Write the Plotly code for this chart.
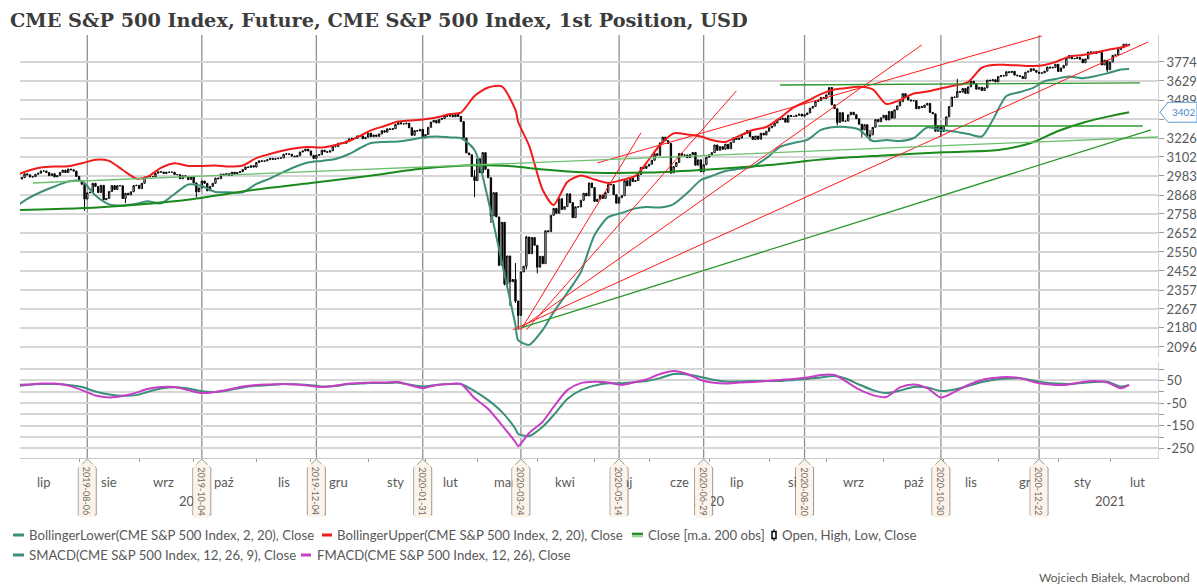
import math
import pandas as pd
import plotly.graph_objects as go

# ---------------------------------------------------------------- data
HOLIDAYS = ["2019-07-04", "2019-09-02", "2019-11-28", "2019-12-25", "2020-01-01",
            "2020-01-20", "2020-02-17", "2020-04-10", "2020-05-25", "2020-07-03",
            "2020-09-07", "2020-11-26", "2020-12-25", "2021-01-01", "2021-01-18",
            "2021-02-15"]

# daily closes, one list per month (trading days)
c_2019_07 = [2964, 2973, 2996, 2990, 2976, 2979, 2993, 3000, 3014, 3014, 3004, 2985, 2996, 2977, 2985, 3005, 3019, 3004, 3026, 3021, 3013, 2980]
c_2019_08 = [2954, 2932, 2844, 2881, 2884, 2938, 2919, 2883, 2926, 2840, 2848, 2889, 2924, 2900, 2924, 2923, 2847, 2878, 2869, 2887, 2924, 2926]
c_2019_09 = [2906, 2938, 2976, 2979, 2979, 2979, 3000, 3009, 3007, 2998, 3006, 3006, 3006, 2992, 2991, 2966, 2984, 2977, 2961, 2977]
c_2019_10 = [2940, 2887, 2910, 2952, 2938, 2893, 2919, 2938, 2970, 2966, 2995, 2989, 2997, 2986, 3006, 2996, 3004, 3010, 3023, 3039, 3036, 3047, 3038]
c_2019_11 = [3067, 3078, 3075, 3077, 3085, 3093, 3087, 3091, 3094, 3096, 3120, 3122, 3120, 3108, 3104, 3110, 3134, 3141, 3153, 3141]
c_2019_12 = [3113, 3093, 3113, 3117, 3146, 3136, 3133, 3142, 3169, 3169, 3191, 3192, 3191, 3205, 3221, 3224, 3223, 3240, 3240, 3221, 3231]
c_2020_01 = [3258, 3235, 3246, 3237, 3253, 3275, 3265, 3288, 3283, 3289, 3317, 3330, 3321, 3321, 3326, 3295, 3244, 3276, 3273, 3284, 3226]
c_2020_02 = [3249, 3298, 3334, 3345, 3328, 3352, 3358, 3379, 3374, 3380, 3370, 3386, 3373, 3338, 3226, 3128, 3116, 2979, 2954]
c_2020_03 = [3090, 3003, 3130, 3024, 2972, 2747, 2882, 2741, 2481, 2711, 2386, 2529, 2398, 2409, 2305, 2237, 2447, 2476, 2630, 2541, 2627, 2585]
c_2020_04 = [2471, 2527, 2489, 2664, 2659, 2750, 2790, 2762, 2846, 2784, 2800, 2875, 2823, 2737, 2799, 2798, 2837, 2878, 2863, 2940, 2912]
c_2020_05 = [2830, 2843, 2868, 2848, 2882, 2930, 2930, 2870, 2820, 2852, 2864, 2954, 2923, 2972, 2949, 2955, 2992, 3036, 3030, 3044]
c_2020_06 = [3056, 3081, 3123, 3112, 3194, 3232, 3208, 3190, 3002, 3041, 3067, 3125, 3113, 3115, 3098, 3118, 3131, 3050, 3084, 3009, 3053, 3100]
c_2020_07 = [3116, 3130, 3180, 3145, 3169, 3152, 3185, 3155, 3197, 3227, 3216, 3225, 3251, 3257, 3276, 3236, 3216, 3239, 3218, 3258, 3246, 3271]
c_2020_08 = [3295, 3306, 3327, 3349, 3352, 3360, 3333, 3380, 3373, 3373, 3381, 3389, 3375, 3385, 3397, 3431, 3443, 3478, 3485, 3508, 3500]
c_2020_09 = [3527, 3580, 3455, 3427, 3331, 3399, 3340, 3341, 3384, 3402, 3385, 3357, 3319, 3281, 3316, 3237, 3247, 3298, 3351, 3336, 3363]
c_2020_10 = [3381, 3348, 3408, 3361, 3419, 3447, 3477, 3535, 3512, 3489, 3483, 3484, 3427, 3443, 3436, 3453, 3465, 3401, 3391, 3271, 3310, 3270]
c_2020_11 = [3310, 3370, 3443, 3510, 3509, 3551, 3546, 3573, 3537, 3585, 3627, 3610, 3568, 3582, 3558, 3578, 3636, 3630, 3638, 3622]
c_2020_12 = [3662, 3669, 3667, 3699, 3692, 3702, 3673, 3668, 3663, 3647, 3695, 3702, 3722, 3709, 3695, 3687, 3690, 3703, 3735, 3727, 3732, 3756]
c_2021_01 = [3701, 3727, 3748, 3804, 3825, 3799, 3801, 3810, 3795, 3768, 3798, 3852, 3853, 3841, 3855, 3849, 3751, 3788, 3714]
c_2021_02 = [3774, 3826, 3830, 3872, 3887, 3915, 3911, 3910]

# intraday extremes visible as long wicks
wick_dates = ["2019-08-05", "2019-08-26", "2019-10-02", "2020-02-28", "2020-03-09", "2020-03-12", "2020-03-16",
              "2020-03-18", "2020-03-20", "2020-03-23", "2020-03-24", "2020-03-26", "2020-04-01", "2020-06-11",
              "2020-09-08", "2020-09-21", "2020-09-24", "2020-10-30", "2020-11-09", "2021-01-29"]
wick_high = [2880, 2880, 2942, 3020, 2883, 2660, 2550, 2453, 2492, 2300, 2450, 2637, 2540, 3125,
             3425, 3300, 3280, 3305, 3645, 3775]
wick_low = [2776, 2820, 2855, 2855, 2707, 2478, 2380, 2281, 2295, 2174, 2315, 2460, 2440, 2995,
            3310, 3230, 3205, 3234, 3540, 3694]

# indicator readings (weekly)
band_dates = ["2019-07-01", "2019-07-05", "2019-07-12", "2019-07-19", "2019-07-26", "2019-08-02", "2019-08-09", "2019-08-16", "2019-08-23", "2019-08-30",
              "2019-09-06", "2019-09-13", "2019-09-20", "2019-09-27", "2019-10-04", "2019-10-11", "2019-10-18", "2019-10-25", "2019-11-01", "2019-11-08",
              "2019-11-15", "2019-11-22", "2019-11-29", "2019-12-06", "2019-12-13", "2019-12-20", "2019-12-27",
              "2020-01-03", "2020-01-10", "2020-01-17", "2020-01-24", "2020-01-31", "2020-02-07", "2020-02-14", "2020-02-21", "2020-02-28",
              "2020-03-06", "2020-03-13", "2020-03-20", "2020-03-23", "2020-03-27", "2020-04-03", "2020-04-09", "2020-04-17", "2020-04-24",
              "2020-05-01", "2020-05-08", "2020-05-15", "2020-05-22", "2020-05-29", "2020-06-05", "2020-06-12", "2020-06-19", "2020-06-26",
              "2020-07-02", "2020-07-10", "2020-07-17", "2020-07-24", "2020-07-31", "2020-08-07", "2020-08-14", "2020-08-21", "2020-08-28",
              "2020-09-04", "2020-09-11", "2020-09-18", "2020-09-25", "2020-10-02", "2020-10-09", "2020-10-16", "2020-10-23", "2020-10-30",
              "2020-11-06", "2020-11-13", "2020-11-20", "2020-11-27", "2020-12-04", "2020-12-11", "2020-12-18", "2020-12-24", "2020-12-31",
              "2021-01-08", "2021-01-15", "2021-01-22", "2021-01-29", "2021-02-05", "2021-02-10"]
bb_upper = [2995, 3014, 3036, 3042, 3043, 3062, 3084, 3077, 3020, 2967, 2977, 3033, 3062, 3045, 3045, 3048, 3041, 3048, 3095, 3121,
            3144, 3160, 3167, 3164, 3180, 3206, 3240,
            3277, 3307, 3337, 3344, 3351, 3365, 3390, 3400, 3518, 3580, 3588, 3418, 3334, 3176, 2898, 2810, 2946, 2986,
            2961, 2940, 2958, 2983, 3064, 3180, 3257, 3250, 3236, 3213, 3200, 3240, 3280, 3300, 3362, 3436, 3482, 3532,
            3566, 3575, 3586, 3566, 3461, 3489, 3536, 3551, 3573, 3595, 3621, 3730, 3751, 3751, 3747, 3743, 3751, 3774,
            3816, 3829, 3845, 3869, 3889, 3909]
bb_lower = [2813, 2845, 2886, 2919, 2949, 2952, 2865, 2813, 2807, 2816, 2831, 2819, 2874, 2931, 2922, 2886, 2884, 2884, 2934, 2967,
            3008, 3045, 3067, 3077, 3089, 3121, 3160,
            3193, 3200, 3203, 3213, 3230, 3236, 3230, 3226, 3147, 2839, 2498, 2193, 2126, 2105, 2171, 2252, 2344, 2447,
            2641, 2740, 2764, 2790, 2798, 2795, 2815, 2880, 2958, 2983, 3014, 3027, 3041, 3095, 3167, 3193, 3213, 3280,
            3300, 3300, 3283, 3206, 3213, 3206, 3226, 3297, 3280, 3270, 3253, 3236, 3348, 3518, 3547, 3580, 3628, 3644,
            3662, 3649, 3663, 3686, 3716, 3720]
macd_signal = [26, 30, 34, 34, 30, 21, 1, -12, -18, -15, -1, 14, 20, 14, 2, -1, 7, 19, 26, 30, 34, 32, 30, 23, 25, 34, 36,
               38, 38, 40, 32, 23, 30, 34, 34, 3, -37, -89, -164, -186, -195, -154, -103, -32, 7,
               27, 37, 37, 43, 47, 60, 78, 76, 65, 54, 45, 45, 47, 47, 47, 52, 56, 63,
               69, 58, 32, 7, -6, 5, 21, 19, 3, 10, 25, 43, 52, 58, 59, 49, 41, 36,
               34, 38, 43, 44, 23, 30]
macd_line = [30, 32, 36, 36, 27, 7, -17, -25, -19, -4, 12, 21, 21, 7, -6, -1, 10, 23, 30, 32, 34, 32, 27, 21, 27, 36, 38,
             41, 41, 43, 30, 16, 30, 34, 34, -28, -76, -147, -222, -240, -182, -132, -67, 7, 38,
             44, 41, 30, 43, 54, 78, 91, 78, 52, 41, 36, 41, 43, 47, 52, 56, 63, 74,
             74, 47, 10, -15, -23, 19, 32, 16, -26, -1, 30, 52, 60, 65, 60, 43, 34, 30,
             32, 43, 47, 41, 15, 30]

ma_dates = ["2019-07-01", "2019-08-01", "2019-09-03", "2019-10-01", "2019-11-01", "2019-12-02", "2020-01-02", "2020-02-03",
            "2020-03-02", "2020-03-20", "2020-04-01", "2020-05-01", "2020-06-01", "2020-07-01", "2020-08-03", "2020-09-01",
            "2020-10-01", "2020-11-02", "2020-12-01", "2020-12-17", "2021-01-04", "2021-01-19", "2021-02-01", "2021-02-10"]
ma200 = [2781, 2790, 2813, 2845, 2901, 2940, 2983, 3030, 3049, 3042, 3026, 3003, 3004, 3023, 3051, 3089,
         3112, 3133, 3147, 3193, 3273, 3334, 3375, 3402]

# drawn trend lines (start date, start value, end date, end value)
red_d0 = ["2020-03-24", "2020-03-26", "2020-03-23", "2020-03-19", "2020-05-04"]
red_v0 = [2171, 2171, 2171, 2171, 3064]
red_d1 = ["2020-05-27", "2020-07-16", "2020-10-21", "2021-02-22", "2020-12-23"]
red_v1 = [3260, 3555, 3909, 3933, 3982]
green_d0 = ["2019-07-09", "2020-03-24", "2020-08-07", "2020-09-29"]
green_v0 = [2940, 2180, 3599, 3307]
green_d1 = ["2021-02-26", "2021-02-23", "2021-02-17", "2021-02-18"]
green_v1 = [3233, 3280, 3614, 3307]

marker_dates = ["2019-08-06", "2019-10-04", "2019-12-04", "2020-01-31", "2020-03-24",
                "2020-05-14", "2020-06-29", "2020-08-20", "2020-10-30", "2020-12-22"]

month_starts = ["2019-07-01", "2019-08-01", "2019-09-03", "2019-10-01", "2019-11-01", "2019-12-02", "2020-01-02",
                "2020-02-03", "2020-03-02", "2020-04-01", "2020-05-01", "2020-06-01", "2020-07-01", "2020-08-03",
                "2020-09-01", "2020-10-01", "2020-11-02", "2020-12-01", "2021-01-04", "2021-02-01"]
month_mid = ["2019-07-15", "2019-08-16", "2019-09-16", "2019-10-16", "2019-11-15", "2019-12-16", "2020-01-16",
             "2020-02-14", "2020-03-16", "2020-04-16", "2020-05-15", "2020-06-16", "2020-07-16", "2020-08-17",
             "2020-09-16", "2020-10-16", "2020-11-16", "2020-12-16", "2021-01-15", "2021-02-16"]
month_names = ["lip", "sie", "wrz", "paź", "lis", "gru", "sty", "lut", "mar", "kwi", "maj", "cze",
               "lip", "sie", "wrz", "paź", "lis", "gru", "sty", "lut"]
year_pos = ["2019-10-01", "2020-07-01", "2021-02-01"]
year_names = ["2019", "2020", "2021"]

price_ticks = [2096, 2180, 2267, 2357, 2452, 2550, 2652, 2758, 2868, 2983, 3102, 3226, 3354, 3489, 3629, 3774]
price_ticktext = ["2096", "2180", "2267", "2357", "2452", "2550", "2652", "2758", "2868", "2983", "3102", "3226", "", "3489", "3629", "3774"]
macd_ticks = [-250, -200, -150, -100, -50, 0, 50, 100]
macd_ticktext = ["-250", "", "-150", "", "-50", "", "50", ""]

# ---------------------------------------------------------------- trading-day scale
close = (c_2019_07 + c_2019_08 + c_2019_09 + c_2019_10 + c_2019_11 + c_2019_12 +
         c_2020_01 + c_2020_02 + c_2020_03 + c_2020_04 + c_2020_05 + c_2020_06 +
         c_2020_07 + c_2020_08 + c_2020_09 + c_2020_10 + c_2020_11 + c_2020_12 +
         c_2021_01 + c_2021_02)
calendar = pd.bdate_range("2019-06-24", "2021-03-31", freq="C", holidays=HOLIDAYS)
ORIGIN = calendar.get_loc(pd.Timestamp("2019-07-01"))
trade_days = calendar[ORIGIN:ORIGIN + len(close)]
assert str(trade_days[-1].date()) == "2021-02-10", trade_days[-1]


def pos(d):
    return int(calendar.searchsorted(pd.Timestamp(d))) - ORIGIN


trade_x = [pos(d) for d in trade_days]
opens = [close[0]] + close[:-1]
highs = [max(o, c) for o, c in zip(opens, close)]
lows = [min(o, c) for o, c in zip(opens, close)]
for d, hi, lo in zip(wick_dates, wick_high, wick_low):
    i = pos(d)
    highs[i] = max(highs[i], hi)
    lows[i] = min(lows[i], lo)

# ---------------------------------------------------------------- geometry
W, H = 1197, 585
PL, PR, PT, PB = 20, 1158, 35, 458
MAIN_BOTTOM, MACD_TOP = 357, 362
dom_main = [(PB - MAIN_BOTTOM) / (PB - PT), 1.0]
dom_macd = [0.0, (PB - MACD_TOP) / (PB - PT)]
Y_LO, Y_HI = math.log10(2053), math.log10(3990)
X_RANGE = [0.33, 417.6]


def fx(x):
    return (x - PL) / (PR - PL)


def fy(y):
    return (PB - y) / (PB - PT)


def fy_val(v):
    frac = (math.log10(v) - Y_LO) / (Y_HI - Y_LO)
    return dom_main[0] + frac * (dom_main[1] - dom_main[0])


FONT = "Lato"
GREY = "#595959"
TEAL = "#3a8f78"
RED = "#f01c1c"
GREEN = "#1a8a1a"
MAGENTA = "#c63ec6"

fig = go.Figure()

band_x = [pos(d) for d in band_dates]
fig.add_trace(go.Scatter(x=band_x, y=bb_lower, mode="lines", yaxis="y",
                         line=dict(color=TEAL, width=2, shape="spline", smoothing=0.7),
                         showlegend=False, hoverinfo="skip"))
fig.add_trace(go.Scatter(x=band_x, y=bb_upper, mode="lines", yaxis="y",
                         line=dict(color=RED, width=2, shape="spline", smoothing=0.7),
                         showlegend=False, hoverinfo="skip"))
fig.add_trace(go.Scatter(x=[pos(d) for d in ma_dates], y=ma200, mode="lines", yaxis="y",
                         line=dict(color=GREEN, width=2, shape="spline", smoothing=0.8),
                         showlegend=False, hoverinfo="skip"))
fig.add_trace(go.Candlestick(x=trade_x, open=opens, high=highs, low=lows, close=close,
                             yaxis="y", whiskerwidth=0,
                             increasing=dict(line=dict(color="black", width=1), fillcolor="white"),
                             decreasing=dict(line=dict(color="black", width=1), fillcolor="black"),
                             showlegend=False, hoverinfo="skip"))

for d0, v0, d1, v1 in zip(red_d0, red_v0, red_d1, red_v1):
    fig.add_trace(go.Scatter(x=[pos(d0), pos(d1)], y=[v0, v1], mode="lines", yaxis="y",
                             line=dict(color="#ff1a1a", width=1), showlegend=False, hoverinfo="skip"))
green_styles = ["#6cbf6c", "#2a962a", "#2a962a", "#2a962a"]
for (d0, v0, d1, v1), col in zip(zip(green_d0, green_v0, green_d1, green_v1), green_styles):
    fig.add_trace(go.Scatter(x=[pos(d0), pos(d1)], y=[v0, v1], mode="lines", yaxis="y",
                             line=dict(color=col, width=1.3), showlegend=False, hoverinfo="skip"))

fig.add_trace(go.Scatter(x=band_x, y=macd_signal, mode="lines", yaxis="y2",
                         line=dict(color=TEAL, width=2, shape="spline", smoothing=0.7),
                         showlegend=False, hoverinfo="skip"))
fig.add_trace(go.Scatter(x=band_x, y=macd_line, mode="lines", yaxis="y2",
                         line=dict(color=MAGENTA, width=2, shape="spline", smoothing=0.7),
                         showlegend=False, hoverinfo="skip"))

shapes = []
annotations = []


def label(x, xref, y, text, size=13, color=GREY, xanchor="center", **kw):
    d = dict(x=x, xref=xref, y=y, yref="paper", text=text, showarrow=False,
             xanchor=xanchor, yanchor="middle",
             font=dict(family=FONT, size=size, color=color))
    d.update(kw)
    annotations.append(d)


# month / year labels
for d, name in zip(month_mid, month_names):
    label(pos(d), "x", fy(482), name)
for d, name in zip(year_pos, year_names):
    label(pos(d), "x", fy(501), name)

# date markers
for d in marker_dates:
    xd = pos(d)
    shapes.append(dict(type="line", xref="x", yref="paper", x0=xd, x1=xd, y0=fy(459), y1=1,
                       line=dict(color="#8f8f8f", width=1.3), layer="between"))
    shapes.append(dict(type="path", xref="x", yref="paper", xsizemode="pixel", ysizemode="pixel",
                       xanchor=xd, yanchor=fy(459),
                       path="M0,0 L9,-9 L9,-56 L-9,-56 L-9,-9 Z",
                       fillcolor="#fdf3e8", line=dict(color="#9a9a9a", width=1), layer="above"))
    label(xd, "x", fy(491), d, size=9, color="#6b6b6b", textangle=90,
          bgcolor="#fdf3e8", borderpad=2)

# value tag of the moving average
tag_y = fy_val(ma200[-1])
shapes.append(dict(type="path", xref="paper", yref="paper", xsizemode="pixel", ysizemode="pixel",
                   xanchor=1, yanchor=tag_y, path="M2,0 L10,10 L39,10 L39,-10 L10,-10 Z",
                   fillcolor="white", line=dict(color="#5b9bd5", width=1), layer="above"))
label(1, "paper", tag_y, str(round(ma200[-1])), size=10, color="#4a86c8",
      xanchor="left", xshift=12)

# legend (manual)
legend_rows = {1: 535, 2: 555}
legend_items = [
    (1, 13, 24, TEAL, 27, "BollingerLower(CME S&P 500 Index, 2, 20), Close"),
    (1, 322, 332, RED, 335, "BollingerUpper(CME S&P 500 Index, 2, 20), Close"),
    (1, 632, 643, GREEN, 646, "Close [m.a. 200 obs]"),
    (1, None, None, None, 780, "Open, High, Low, Close"),
    (2, 13, 24, TEAL, 27, "SMACD(CME S&P 500 Index, 12, 26, 9), Close"),
    (2, 301, 311, MAGENTA, 315, "FMACD(CME S&P 500 Index, 12, 26), Close"),
]
for row, a, b, col, tx, text in legend_items:
    yy = legend_rows[row]
    if a is not None:
        if col == GREEN:
            shapes.append(dict(type="line", xref="paper", yref="paper", x0=fx(a), x1=fx(b),
                               y0=fy(yy - 1.2), y1=fy(yy - 1.2), line=dict(color=GREEN, width=2.2)))
            shapes.append(dict(type="line", xref="paper", yref="paper", x0=fx(a), x1=fx(b),
                               y0=fy(yy + 1.2), y1=fy(yy + 1.2), line=dict(color="#9fd19f", width=2.2)))
        else:
            shapes.append(dict(type="line", xref="paper", yref="paper", x0=fx(a), x1=fx(b),
                               y0=fy(yy), y1=fy(yy), line=dict(color=col, width=3)))
    else:
        shapes.append(dict(type="line", xref="paper", yref="paper", x0=fx(774), x1=fx(774),
                           y0=fy(yy - 6), y1=fy(yy + 6), line=dict(color="black", width=1)))
        shapes.append(dict(type="rect", xref="paper", yref="paper", x0=fx(772), x1=fx(776),
                           y0=fy(yy - 3.5), y1=fy(yy + 3.5), fillcolor="white",
                           line=dict(color="black", width=1.5)))
    label(fx(tx), "paper", fy(yy), text, size=13.2, xanchor="left")

label(fx(1192), "paper", fy(577), "Wojciech Białek, Macrobond", size=12, xanchor="right")

fig.update_layout(
    width=W, height=H, autosize=False,
    margin=dict(l=PL, r=W - PR, t=PT, b=H - PB, pad=0, autoexpand=False),
    paper_bgcolor="white", plot_bgcolor="white",
    font=dict(family=FONT, size=13, color=GREY),
    hovermode=False, showlegend=False,
    title=dict(text="<b>CME S&P 500 Index, Future, CME S&P 500 Index, 1st Position, USD</b>",
               x=10 / W, xanchor="left", xref="container",
               y=1 - 20 / H, yanchor="middle", yref="container", automargin=False,
               font=dict(family="DejaVu Serif", size=19.3, color="#3c3c3c")),
    xaxis=dict(type="linear", range=X_RANGE, automargin=False,
               rangeslider=dict(visible=False), anchor="y2",
               showgrid=False, zeroline=False, showline=True, linecolor="#c8c8c8", linewidth=1,
               tickvals=[pos(d) for d in month_starts], ticktext=[""] * len(month_starts),
               ticks="outside", ticklen=3, tickcolor="#9a9a9a"),
    yaxis=dict(type="log", domain=dom_main, range=[Y_LO, Y_HI], side="right", anchor="x",
               automargin=False,
               tickvals=price_ticks, ticktext=price_ticktext,
               showgrid=True, gridcolor="#d6d6d6", gridwidth=1.6, zeroline=False,
               showline=True, linecolor="#d0d0d0", ticks="outside", ticklen=5, tickcolor="#9a9a9a",
               tickfont=dict(family=FONT, size=13, color=GREY)),
    yaxis2=dict(domain=dom_macd, range=[-292, 131], side="right", anchor="x",
                automargin=False,
                tickvals=macd_ticks, ticktext=macd_ticktext,
                showgrid=True, gridcolor="#d6d6d6", gridwidth=1.6, zeroline=False,
                showline=True, linecolor="#d0d0d0", ticks="outside", ticklen=5, tickcolor="#9a9a9a",
                tickfont=dict(family=FONT, size=13, color=GREY)),
    shapes=shapes, annotations=annotations,
)

fig.write_html("out.html", config={"displayModeBar": False},
               post_script="document.body.style.margin='0px';")
